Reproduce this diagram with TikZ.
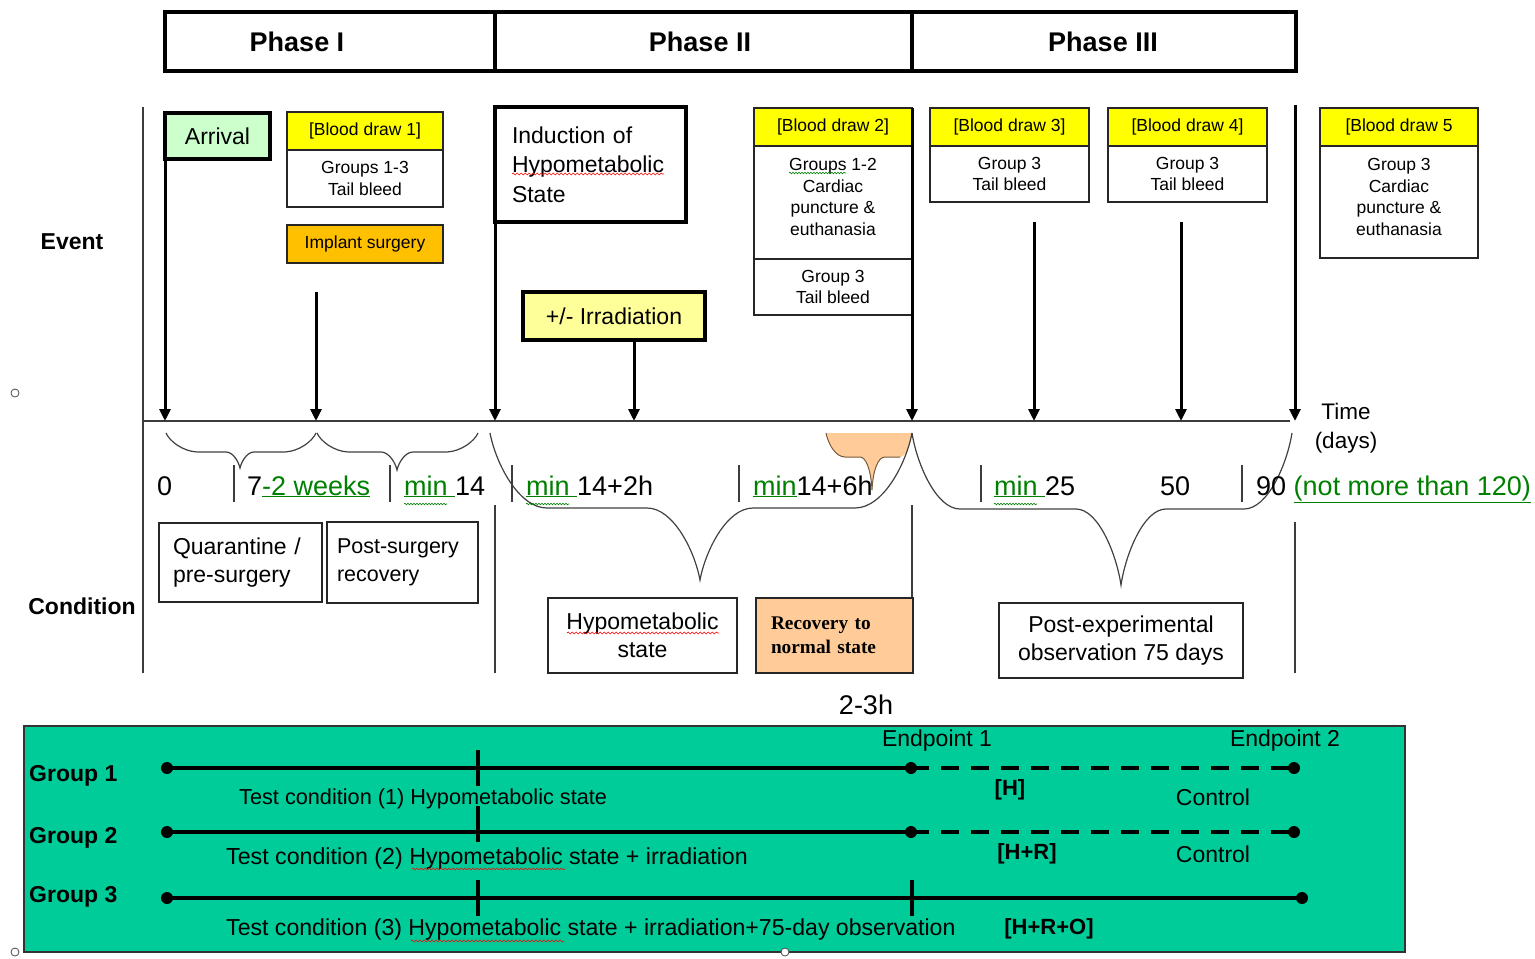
\documentclass[tikz,border=0pt]{standalone}
\usepackage{fontspec}
\setmainfont{Liberation Sans}
\newfontfamily\tnr{Liberation Serif}
\usetikzlibrary{arrows.meta,decorations.pathmorphing}
\definecolor{ylw}{RGB}{255,255,0}
\definecolor{lightylw}{RGB}{255,255,153}
\definecolor{implantc}{RGB}{255,192,0}
\definecolor{arrgreen}{RGB}{204,255,204}
\definecolor{peach}{RGB}{255,204,153}
\definecolor{peachline}{RGB}{120,90,60}
\definecolor{panelc}{RGB}{0,204,153}
\definecolor{txtgreen}{RGB}{0,128,0}
\definecolor{linegray}{RGB}{60,60,60}
\newcommand\fsmall{\fontsize{17.5}{21.7}\selectfont}
\newcommand\fmed{\fontsize{23}{28.5}\selectfont}
\newcommand\fbig{\fontsize{27}{32}\selectfont}
\newcommand\gul[1]{\textcolor{txtgreen}{\underline{#1}}}
% xL, xM, xR, y0, y1, y2, wEnd, wTip
\newcommand\drawbrace[8]{%
\draw[brc] (#1,#4)
 .. controls ({#1+0.1*#7},{#4+0.4*(#5-#4)}) and ({#1+0.5*#7},#5) .. ({#1+#7},#5)
 -- ({#2-#8},#5)
 .. controls ({#2-0.5*#8},#5) and ({#2-0.1*#8},{#6-0.4*(#6-#5)}) .. (#2,#6)
 .. controls ({#2+0.1*#8},{#6-0.4*(#6-#5)}) and ({#2+0.5*#8},#5) .. ({#2+#8},#5)
 -- ({#3-#7},#5)
 .. controls ({#3-0.5*#7},#5) and ({#3-0.1*#7},{#4+0.4*(#5-#4)}) .. (#3,#4);}
\begin{document}
\begin{tikzpicture}[x=1pt,y=-1pt,
  box/.style={draw=black!85, line width=1.4pt, inner sep=0pt, outer sep=0pt, align=center, font=\fsmall},
  hdr/.style={box, fill=ylw},
  boldbox/.style={draw=black, line width=3.5pt, inner sep=0pt, outer sep=0pt, align=center},
  phasebox/.style={draw=black, line width=3.5pt, minimum height=59, inner sep=0pt, outer sep=0pt},
  evarrow/.style={line width=3pt, -{Triangle[width=11pt,length=12pt]}},
  seam/.style={draw=linegray, line width=1.4pt},
  tline/.style={draw=linegray, line width=2pt},
  brc/.style={draw=black!75, line width=1.2pt},
  lbl/.style={font=\fbig, anchor=base west, inner sep=0pt},
  grpline/.style={line width=4pt},
  gdot/.style={circle, fill=black, inner sep=0pt, minimum size=12pt},
  gtick/.style={line width=3.5pt},
  wavyred/.style={draw=red, line width=0.6pt, decorate, decoration={snake, amplitude=1pt, segment length=4pt}},
  wavygrn/.style={draw=txtgreen, line width=0.6pt, decorate, decoration={snake, amplitude=0.8pt, segment length=3pt}},
  handle/.style={draw=black!70, fill=white, line width=0.8pt}
]
\useasboundingbox (0,0) rectangle (1535,959);

% ---------- phase header ----------
\node[phasebox, minimum width=330] (ph1) at (330,41.5) {};
\node[phasebox, minimum width=417] (ph2) at (703.5,41.5) {};
\node[phasebox, minimum width=384] (ph3) at (1104,41.5) {};
\node[font=\fbig\bfseries] (ph1t) at (297,41.5) {Phase I};
\node[font=\fbig\bfseries] (ph2t) at (700,41.5) {Phase II};
\node[font=\fbig\bfseries] (ph3t) at (1103,41.5) {Phase III};

% ---------- row labels ----------
\node[font=\fmed\bfseries] (ev) at (72,242) {Event};
\node[font=\fmed\bfseries] (cond) at (82,606) {Condition};

% ---------- frame lines ----------
\coordinate (lf0) at (143,107);
\coordinate (lf1) at (143,673);
\draw[seam] (lf0) -- (lf1);
\coordinate (tl0) at (143,421);
\coordinate (tl1) at (1290,421);
\draw[tline] (tl0) -- (tl1);

% ---------- event boxes ----------
\node[boldbox, fill=arrgreen, minimum width=105, minimum height=46, font=\fmed] (arr) at (217.5,136) {Arrival};

\node[hdr, minimum width=156, minimum height=38] (bd1h) at (365,131) {[Blood draw 1]};
\node[box, minimum width=156, minimum height=57, anchor=north] (bd1b) at (bd1h.south) {Groups 1-3\\Tail bleed};
\node[box, fill=implantc, minimum width=156, minimum height=38] (impl) at (365,244) {Implant surgery};

\node[boldbox, minimum width=191, minimum height=115, text width=157, inner xsep=17, align=left, font=\fontsize{23}{29.5}\selectfont] (ind) at (590.5,164.5) {Induction of\\Hypometabolic\\State};
\node[boldbox, fill=lightylw, minimum width=182, minimum height=48, font=\fmed] (irr) at (614,316) {+/- Irradiation};

\node[hdr, minimum width=158, minimum height=38] (bd2h) at (833,127) {[Blood draw 2]};
\node[box, minimum width=158, minimum height=113, anchor=north] (bd2b) at (bd2h.south) {};
\node[align=center, font=\fsmall, inner sep=0pt] (bd2bt) at (833,197) {Groups 1-2\\Cardiac\\puncture \&\\euthanasia};
\node[box, minimum width=158, minimum height=56, anchor=north] (bd2c) at (bd2b.south) {Group 3\\Tail bleed};

\node[hdr, minimum width=159, minimum height=38] (bd3h) at (1009.5,127) {[Blood draw 3]};
\node[box, minimum width=159, minimum height=56, anchor=north] (bd3b) at (bd3h.south) {Group 3\\Tail bleed};

\node[hdr, minimum width=159, minimum height=38] (bd4h) at (1187.5,127) {[Blood draw 4]};
\node[box, minimum width=159, minimum height=56, anchor=north] (bd4b) at (bd4h.south) {Group 3\\Tail bleed};

\node[hdr, minimum width=158, minimum height=38] (bd5h) at (1399,127) {[Blood draw 5};
\node[box, minimum width=158, minimum height=112, anchor=north] (bd5b) at (bd5h.south) {};
\node[align=center, font=\fsmall, inner sep=0pt] (bd5bt) at (1399,197) {Group 3\\Cardiac\\puncture \&\\euthanasia};

% ---------- event arrows ----------
\coordinate (t1) at (165,421);
\coordinate (t2) at (316,421);
\coordinate (t3) at (495,421);
\coordinate (t4) at (634,421);
\coordinate (t5) at (912,421);
\coordinate (t6) at (1034,421);
\coordinate (t7) at (1181,421);
\coordinate (t8) at (1295,421);
\coordinate (s2) at (316,292);
\coordinate (s6) at (1034,222);
\coordinate (s7) at (1181,222);
\coordinate (s8) at (1295,105);
\draw[evarrow] (arr.south west) -- (t1);
\draw[evarrow] (s2) -- (t2);
\draw[evarrow] (ind.south west) -- (t3);
\draw[evarrow] ([xshift=20pt]irr.south) -- (t4);
\draw[evarrow] (bd2h.north east) -- (t5);
\draw[evarrow] (s6) -- (t6);
\draw[evarrow] (s7) -- (t7);
\draw[evarrow] (s8) -- (t8);

\node[font=\fontsize{22.5}{29}\selectfont, align=center] (time) at (1346,428) {Time\\(days)};

% ---------- orange callout ----------
\fill[peach] (826,433) .. controls (828,443) and (835,457) .. (845,457) -- (860,457)
  .. controls (866,457) and (871,470) .. (872,490) .. controls (873,470) and (878,457) .. (885,457)
  -- (900,457) .. controls (906,457) and (911,443) .. (912,433) -- cycle;
\draw[peachline, line width=1pt] (826,433) .. controls (828,443) and (835,457) .. (845,457) -- (860,457)
  .. controls (866,457) and (871,470) .. (872,490) .. controls (873,470) and (878,457) .. (885,457)
  -- (900,457);

% ---------- braces ----------
\drawbrace{166}{240}{316}{433}{452}{468}{33}{14}
\drawbrace{317}{397}{478}{433}{452}{470}{33}{16}
\drawbrace{490}{700}{912}{433}{508}{580}{57}{53}
\drawbrace{912}{1121}{1292}{433}{509}{585}{48}{45}

% ---------- time labels ----------
\foreach \xx in {234,390,512,739,981,1242}{\draw[seam] (\xx,465) -- (\xx,502);}
\node[lbl] (l0) at (157,495) {0};
\node[lbl] (l7) at (247,495) {7\gul{-2 weeks}};
\node[lbl] (l14) at (404,495) {\gul{min }14};
\node[lbl] (l142) at (526,495) {\gul{min }14+2h};
\node[lbl] (l146) at (753,495) {\gul{min}14+6h};
\node[lbl] (l25) at (994,495) {\gul{min }25};
\node[lbl] (l50) at (1160,495) {50};
\node[lbl] (l90) at (1256,495) {90 \gul{(not more than 120)}};
\draw[wavygrn] (404,504) -- (447,504);
\draw[wavygrn] (526,504) -- (569,504);
\draw[wavygrn] (994,504) -- (1037,504);

% ---------- condition region ----------
\coordinate (c495a) at (495,505); \coordinate (c495b) at (495,673);
\coordinate (c912a) at (912,505); \coordinate (c912b) at (912,673);
\coordinate (c1295a) at (1295,522); \coordinate (c1295b) at (1295,673);
\draw[seam] (c495a) -- (c495b);
\draw[seam] (c912a) -- (c912b);
\draw[seam] (c1295a) -- (c1295b);

\node[box, font=\fmed, minimum width=163, minimum height=79, text width=135, inner xsep=14, align=left] (quar) at (240.5,562.5) {Quarantine /\\pre-surgery};
\node[box, font=\fontsize{21.5}{27.5}\selectfont, minimum width=151, minimum height=81, text width=131, inner xsep=10, align=left] (post) at (402.5,562.5) {Post-surgery\\recovery};
\node[box, font=\fmed, minimum width=189, minimum height=75] (hyp) at (642.5,635.5) {Hypometabolic\\state};
\node[box, fill=peach, minimum width=157, minimum height=75, text width=127, inner xsep=15, align=left, font=\fontsize{19.3}{24}\selectfont\tnr\bfseries] (rec) at (834.5,635.5) {Recovery to\\normal state};
\node[box, font=\fmed, minimum width=244, minimum height=75] (pexp) at (1121,640.5) {Post-experimental\\observation 75 days};
\node[font=\fbig] (h23) at (866,705) {2-3h};

% spell-check marks
\draw[wavyred] (512,174) -- (664,174);
\draw[wavyred] (567,633) -- (719,633);
\draw[wavygrn] (789,173) -- (846,173);

% ---------- group panel ----------
\node[draw=black!80, line width=1.2pt, fill=panelc, minimum width=1381, minimum height=226, inner sep=0pt] (panel) at (714.5,839) {};

\node[anchor=west, inner sep=0pt, font=\fmed\bfseries] (gl1) at (29,776) {Group 1};
\node[anchor=west, inner sep=0pt, font=\fmed\bfseries] (gl2) at (29,838) {Group 2};
\node[anchor=west, inner sep=0pt, font=\fmed\bfseries] (gl3) at (29,897) {Group 3};

\node[gdot] (g1a) at (167,768) {};
\node[gdot] (g1b) at (911,768) {};
\node[gdot] (g1c) at (1294,768) {};
\draw[grpline] (g1a.center) -- (g1b.center);
\draw[grpline, dash pattern=on 18pt off 12pt] (g1b.center) -- (g1c.center);
\node[gdot] (g2a) at (167,832) {};
\node[gdot] (g2b) at (911,832) {};
\node[gdot] (g2c) at (1294,832) {};
\draw[grpline] (g2a.center) -- (g2b.center);
\draw[grpline, dash pattern=on 18pt off 12pt] (g2b.center) -- (g2c.center);
\node[gdot] (g3a) at (167,898) {};
\node[gdot] (g3b) at (1302,898) {};
\draw[grpline] (g3a.center) -- (g3b.center);

\draw[gtick] (478,750) -- (478,786);
\draw[gtick] (478,806) -- (478,842);
\draw[gtick] (478,880) -- (478,916);
\draw[gtick] (912,880) -- (912,916);

\node[anchor=west, inner sep=0pt, font=\fontsize{21.7}{26}\selectfont] (tc1) at (239,799) {Test condition (1) Hypometabolic state};
\node[anchor=west, inner sep=0pt, font=\fontsize{23.2}{28}\selectfont] (tc2) at (226,858) {Test condition (2) Hypometabolic state + irradiation};
\node[anchor=west, inner sep=0pt, font=\fontsize{23.1}{28}\selectfont] (tc3) at (226,930) {Test condition (3) Hypometabolic state + irradiation+75-day observation};
\draw[wavyred] (412,869) -- (565,869);
\draw[wavyred] (411,941) -- (564,941);

\node[font=\fmed] (ep1) at (937,741) {Endpoint 1};
\node[font=\fmed] (ep2) at (1285,741) {Endpoint 2};
\node[font=\fontsize{22}{26}\selectfont\bfseries] (hh) at (1010,790) {[H]};
\node[font=\fontsize{22}{26}\selectfont\bfseries] (hr) at (1027,854) {[H+R]};
\node[font=\fontsize{22}{26}\selectfont\bfseries] (hro) at (1049,929) {[H+R+O]};
\node[font=\fmed] (ctl1) at (1213,797) {Control};
\node[font=\fmed] (ctl2) at (1213,854) {Control};

% ---------- handles ----------
\draw[handle] (15,393) circle[radius=4pt];
\draw[handle] (15,952) circle[radius=4pt];
\draw[handle] (785,952) circle[radius=4pt];
\end{tikzpicture}
\end{document}
